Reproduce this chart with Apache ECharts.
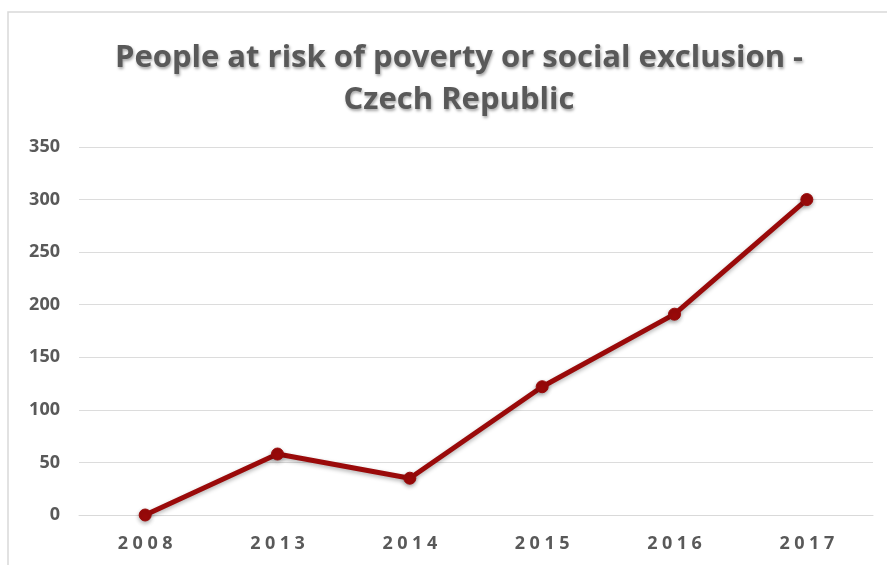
<!DOCTYPE html>
<html>
<head>
<meta charset="utf-8">
<script src="https://cdn.jsdelivr.net/npm/echarts@6/dist/echarts.min.js"></script>
<style>
  html, body { margin: 0; padding: 0; background: #fff; }
  #chart { width: 887px; height: 565px; }
</style>
</head>
<body>
<div id="chart"></div>
<script>
var years = ['2008', '2013', '2014', '2015', '2016', '2017'];
var people = [0, 58, 35, 122, 191, 300];
var yTicks = [0, 50, 100, 150, 200, 250, 300, 350];

var lineColor = '#9a0a0a';
var textColor = '#595959';

var chart = echarts.init(document.getElementById('chart'));

chart.setOption({
    backgroundColor: '#fff',
    animation: false,
    title: {
        text: 'People at risk of poverty or social exclusion -\nCzech Republic',
        left: 454,
        textAlign: 'center',
        top: 32,
        textStyle: {
            fontFamily: 'Open Sans',
            fontSize: 31,
            fontWeight: 'bold',
            lineHeight: 42,
            color: textColor,
            textShadowColor: 'rgba(0,0,0,0.35)',
            textShadowBlur: 3,
            textShadowOffsetX: 1,
            textShadowOffsetY: 2
        }
    },
    graphic: [{
        type: 'rect',
        shape: { x: 8, y: 12, width: 900, height: 600 },
        style: { fill: 'none', stroke: '#d9d9d9', lineWidth: 1.5 },
        silent: true
    }],
    grid: { left: 79, right: 14, top: 147, bottom: 50 },
    xAxis: {
        type: 'category',
        data: years,
        boundaryGap: true,
        axisLine: { lineStyle: { color: '#d9d9d9', width: 1 } },
        axisTick: { show: false },
        axisLabel: {
            margin: 20,
            fontFamily: 'Open Sans',
            fontSize: 18,
            fontWeight: 'bold',
            color: textColor,
            formatter: function (v) { return v.split('').join('\u2005'); }
        }
    },
    yAxis: {
        type: 'value',
        min: yTicks[0],
        max: yTicks[yTicks.length - 1],
        interval: 50,
        axisLine: { show: false },
        axisTick: { show: false },
        splitLine: { lineStyle: { color: '#dcdcdc', width: 1 } },
        axisLabel: {
            margin: 19,
            fontFamily: 'Open Sans',
            fontSize: 18,
            fontWeight: 'bold',
            color: textColor
        }
    },
    series: [{
        type: 'line',
        data: people,
        symbol: 'circle',
        symbolSize: 12,
        lineStyle: {
            color: lineColor,
            width: 5,
            shadowColor: 'rgba(0,0,0,0.3)',
            shadowBlur: 4,
            shadowOffsetY: 2
        },
        itemStyle: {
            color: lineColor,
            borderColor: lineColor,
            shadowColor: 'rgba(0,0,0,0.3)',
            shadowBlur: 4,
            shadowOffsetY: 2
        }
    }]
});
</script>
</body>
</html>
